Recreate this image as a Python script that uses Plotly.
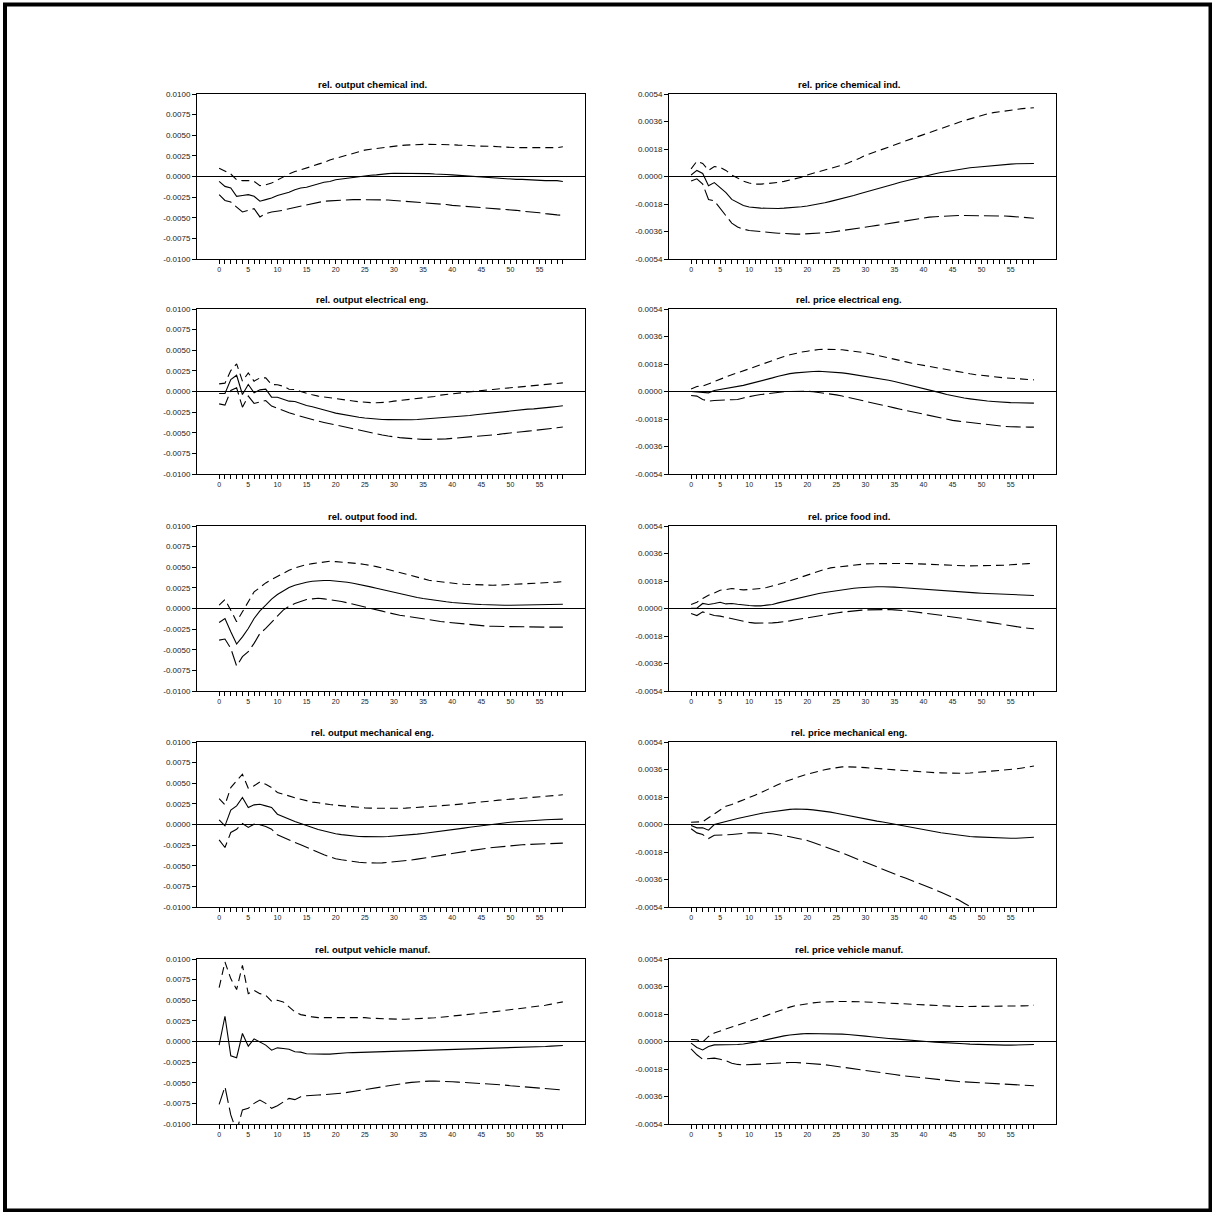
import plotly.graph_objects as go

# ---------------- data (values in units of 1e-4) ----------------
UNIT = 1e-4
horizon = list(range(60))

titles = [
    "rel. output chemical ind.", "rel. price chemical ind.",
    "rel. output electrical eng.", "rel. price electrical eng.",
    "rel. output food ind.", "rel. price food ind.",
    "rel. output mechanical eng.", "rel. price mechanical eng.",
    "rel. output vehicle manuf.", "rel. price vehicle manuf.",
]

out_chem_irf = [-6,-12,-14,-24,-23,-22,-24,-30,-28,-26, -23,-21,-19,-16,-14,-13,-11,-9,-7,-6, -4,-3,-2,-1,0,1,1.5,2,3,3.5, 4,4,4,4,4,4,3.5,3,3,2.5, 2,1.5,1,0.5,0,-1,-1.5,-2,-2,-2.5, -3,-3.5,-3.5,-4,-4,-4.5,-5,-5,-5,-6]
out_chem_up = [10,6,3,-4,-5,-5,-6,-11,-10,-8, -4,0,3,6,8,10,12.5,15,17,20, 22,24,26,28,30,32,33,34,35,36, 37,37.5,38,38.5,39,39,39,39,39,38.5, 38.5,38,38,37.5,37,37,37,36.5,36,35.5, 35,35,35,35,35,35,35,35,35,36]
out_chem_lo = [-22,-29,-31,-37,-43,-41,-39,-49,-45,-43, -42,-41,-39,-37.5,-36,-34,-33,-31,-30,-29.5, -29,-28.5,-28,-28,-28,-28,-28,-28,-28,-28.5, -29,-29.5,-30,-30.5,-31,-31.5,-32,-33,-33.5,-34, -35,-35.5,-36,-36.5,-37,-37.5,-38,-38.5,-39,-39.5, -40,-41,-42,-42.5,-43,-44,-45,-46,-46.5,-47]

pr_chem_irf = [1,4,2,-6,-4,-7,-10.5,-15,-17,-19, -20,-20.5,-20.7,-20.8,-21,-20.9,-20.7,-20.5,-20.2,-19.8, -19.3,-18.7,-18,-17.2,-16.3,-15.4,-14.4,-13.4,-12.4,-11.3, -10.3,-9.3,-8.2,-7.1,-6,-4.9,-3.8,-2.8,-1.8,-0.8, 0.2,1,1.8,2.6,3.3,4,4.6,5.2,5.7,6.1, 6.5,6.9,7.3,7.6,7.9,8.1,8.3,8.4,8.5,8.5]
pr_chem_up = [5,10,8.5,4,6.5,6,4,1,-1,-3, -4.3,-5,-5,-4.7,-4.3,-3.9,-3.2,-2.4,-1.5,-0.5, 1,2,3,4,5,6.2,7.5,8.8,10.2,12, 13.8,15.2,16.6,18,19.5,21,22.3,23.6,24.9,26.1, 27.4,28.8,30.2,31.5,32.8,34,35.3,36.6,37.8,39, 40,41,41.8,42.4,43,43.5,44,44.4,44.7,45]
pr_chem_lo = [-3,-1.5,-5,-15,-16,-21,-26,-30.5,-33,-34.5, -35.3,-35.8,-36.2,-36.5,-36.8,-37.1,-37.4,-37.6,-37.7,-37.7, -37.6,-37.4,-37.1,-36.8,-36.5,-36,-35.5,-35,-34.4,-33.8, -33.2,-32.6,-32,-31.4,-30.8,-30.2,-29.5,-28.8,-28.2,-27.6, -27,-26.6,-26.3,-26,-25.8,-25.6,-25.5,-25.5,-25.5,-25.5, -25.5,-25.5,-25.5,-25.7,-25.9,-26.1,-26.4,-26.7,-27,-27.3]

out_elec_irf = [-2.4,-2.4,14.5,19.7,-3.6,8.5,-1.6,2,2.8,-6.9, -6.9,-8.9,-11.7,-12.1,-14.9,-16.9,-18.5,-20.6,-23,-24.2, -26.2,-27.6,-29,-30.2,-31.2,-32.2,-33,-33.6,-33.9,-34.1, -34.3,-34.4,-34.4,-34.3,-34,-33.5,-33.1,-32.7,-32.2,-31.6, -31,-30.4,-29.7,-29,-28.2,-27.4,-26.4,-25.4,-24.9,-24, -23,-22.5,-22,-21.4,-21,-20.6,-19.8,-18.9,-18.1,-17.3]
out_elec_up = [9.3,10.1,25.4,33.5,12.5,22.6,12.5,16.5,16.5,8.5, 8.1,6.4,2.8,2.4,0,-2.4,-4,-5.6,-6.7,-7.8, -8.9,-9.7,-10.5,-11.5,-12.4,-13.3,-13.5,-13.6,-13.7,-12.9, -11.7,-10.9,-10.1,-9.3,-8.5,-7.7,-7,-6,-4.4,-3.6, -2.8,-1.7,-0.6,0.4,0.8,1.2,1.9,2.5,3.2,3.8, 4.4,5.1,5.7,6.4,7,7.7,8.4,9.1,9.8,10.5]
out_elec_lo = [-15,-16.5,1.2,4.4,-19,-5.6,-14.5,-12.5,-10.9,-17.7, -20.6,-23.2,-25.8,-28,-30.2,-31.8,-33.9,-35.9,-37.5,-39.1, -40.7,-42.3,-43.9,-45.3,-46.6,-48,-49.6,-51.2,-52.8,-54, -55.2,-55.9,-56.5,-57.2,-57.6,-58,-58,-58,-58,-57.4, -56.8,-56.3,-55.7,-55.2,-54.8,-54.4,-53.6,-52.8,-52,-51, -50,-49.3,-48.7,-48,-47.4,-46.7,-45.8,-44.9,-44,-43.1]

pr_elec_irf = [0,-0.2,-0.4,-0.9,0.7,1.3,1.7,2.4,3.1,4, 5,5.9,6.8,7.9,8.9,10,11.1,11.7,12.2,12.6, 12.9,13.1,13.3,13.1,12.9,12.6,12.2,11.7,11.1,10.6, 10,9.5,8.9,8.2,7.4,6.6,5.7,4.8,3.9,2.9, 2,1.1,0.2,-0.9,-2,-2.9,-3.7,-4.3,-4.8,-5.4, -5.9,-6.2,-6.5,-6.9,-7.2,-7.3,-7.4,-7.5,-7.5,-7.6]
pr_elec_up = [1.7,3.3,3.5,5,6.8,8.5,9.8,11,12.2,13.6, 15,16.4,17.7,19,20.3,21.6,22.9,24,25.1,25.8, 26.4,27,27.5,27.6,27.7,27.5,27.3,26.9,26.4,25.9, 25.3,24.6,23.8,22.9,22,21.2,20.3,19.4,18.5,17.8, 17,16.3,15.5,14.8,14,13.3,12.6,12.1,11.6,11, 10.5,10,9.6,9.2,8.9,8.7,8.5,8.2,7.9,7.6]
pr_elec_lo = [-2.6,-3,-5.2,-6.3,-5.9,-5.9,-5.5,-5.4,-5.2,-4.2, -3.3,-2.6,-2,-1.5,-1.1,-0.6,-0.2,0,0.2,0.2, 0.2,-0.2,-0.7,-1.1,-1.5,-2.2,-3,-3.8,-4.6,-5.4, -6.3,-7.2,-8.1,-8.9,-9.8,-10.7,-11.6,-12.4,-13.3,-14.1, -15,-15.9,-16.8,-17.6,-18.3,-18.9,-19.4,-19.9,-20.3,-20.7, -21.1,-21.5,-22,-22.5,-22.9,-23.1,-23.3,-23.3,-23.3,-23.3]

out_food_irf = [-16.9,-12.1,-28.2,-43.1,-34.3,-24.2,-12.1,-2.8,4,11.3, 16.9,21.4,25.4,28.2,30.2,31.8,33,33.9,33.9,33.9, 33.4,32.6,31.8,30.6,29.4,27.8,26.2,24.6,23,21, 18.9,17.5,16.1,14.7,13.3,12.1,10.9,9.9,8.9,8.1, 7.3,6.6,6,5.6,5.2,4.8,4.4,4.2,4,4, 4,4.2,4.4,4.6,4.8,4.8,4.8,5,5.1,5.2]
out_food_up = [4,10.9,-2,-16.1,-4,8.1,20.2,25.4,31,35.1, 39.1,43.1,46.3,49.2,51.6,53.2,54.4,55.6,56.8,57.2, 56.8,56.4,56,55.2,54.4,53.4,52.4,50.8,49.2,47.4, 45.5,43.5,41.5,39.5,37.5,35.9,34.3,33.2,32.2,31.4, 30.6,30,29.4,29,28.6,28.4,28.2,28.2,28.4,28.7, 29,29.2,29.4,29.8,30.2,30.6,31,31.5,32,32.6]
out_food_lo = [-38.3,-37,-48.4,-69.7,-58.4,-52.4,-42.3,-30.2,-24.2,-16.1, -9.3,-2,2.8,6,8.9,10.9,11.7,12.5,11.7,10.9, 10,8.5,6.9,5.3,3.6,2.2,0.8,-1.2,-3.2,-5, -6.9,-8.1,-9.3,-10.5,-11.7,-12.9,-14.1,-14.9,-15.7,-16.5, -17.3,-18.1,-18.9,-19.6,-20.2,-20.8,-21.4,-21.6,-21.8,-22, -22.2,-22.2,-22.2,-22.4,-22.6,-22.6,-22.6,-22.6,-22.6,-22.6]

pr_food_irf = [0.2,0.2,3.3,2.6,3.3,4.1,3,3.3,2.8,2.2, 2,1.7,1.7,2.2,2.6,3.7,4.6,5.4,6.3,7.2, 8.3,9,9.8,10.5,11.1,11.8,12.4,12.9,13.3,13.6, 13.9,14.1,14.2,14.2,14.2,14,13.7,13.4,13.1,12.8, 12.6,12.4,12.2,11.8,11.5,11.2,10.9,10.6,10.4,10.2, 10,9.8,9.6,9.3,9.1,8.9,8.7,8.6,8.5,8.5]
pr_food_up = [2.6,4.1,6.5,8.7,10.2,12,12.4,13.1,12.6,12.2, 12.4,12.6,13.1,13.7,14.6,15.7,16.8,18.1,19.4,20.7, 22,23.3,24.6,25.6,26.6,27.1,27.6,28.1,28.5,28.9, 29.2,29.3,29.4,29.5,29.6,29.6,29.6,29.5,29.4,29.2, 29,28.8,28.7,28.6,28.5,28.3,28.1,28,27.9,27.9, 27.9,27.9,27.9,28.1,28.3,28.6,29,29.2,29.4,29.6]
pr_food_lo = [-3.3,-4.6,-2.2,-3.3,-4.6,-5,-5.9,-6.7,-7.6,-8.5, -9.1,-9.6,-9.6,-9.4,-9.4,-9.1,-8.7,-8.1,-7.4,-6.7, -6.1,-5.4,-4.8,-4.1,-3.5,-2.9,-2.4,-1.9,-1.5,-1.2, -0.9,-0.8,-0.7,-0.7,-0.7,-0.9,-1.1,-1.5,-2,-2.4, -2.8,-3.3,-3.9,-4.4,-5,-5.5,-6.1,-6.5,-7,-7.6, -8.3,-8.8,-9.4,-10,-10.7,-11.3,-12,-12.5,-12.9,-13.3]

out_mech_irf = [5.7,-1.6,17.4,22.6,32.7,20.6,23.8,24.6,22.6,20.6, 12.5,9.3,6.5,3.6,1.2,-1.6,-3.6,-6.1,-8.1,-9.7, -11.3,-12.3,-13.3,-13.9,-14.5,-14.7,-14.9,-14.9,-14.9,-14.5, -14.1,-13.5,-12.9,-12.3,-11.7,-10.9,-10.1,-9.3,-8.5,-7.5, -6.5,-5.5,-4.4,-3.4,-2.4,-1.4,-0.4,0.4,1.2,2, 2.8,3.4,4,4.4,4.8,5.3,5.7,6,6.3,6.5]
out_mech_up = [31.5,23.8,44.8,52.9,61,44,46.9,51.7,48.9,44.8, 38.8,36.8,34.3,32.3,30.7,28.7,27.1,26.3,25,24.2, 23.4,22.6,21.8,21.2,20.6,20.2,19.8,19.6,19.4,19.4, 19.4,19.6,19.8,20.2,20.6,21,21.4,22,22.6,23.2, 23.8,24.4,25,25.9,26.7,27.3,27.9,28.7,29.5,30.1, 30.7,31.3,31.9,32.5,33.1,33.7,34.3,34.9,35.5,36]
out_mech_lo = [-18.6,-27.9,-9.7,-5.7,1.2,-3.6,0.4,-0.4,-2.4,-5.7, -12.5,-15.8,-19,-21.8,-24.6,-27.9,-31.1,-33.9,-36.8,-39.2, -41.6,-42.8,-44,-44.9,-45.7,-46.3,-46.9,-46.7,-46.5,-45.9, -45.2,-44.6,-44,-43,-42,-41,-40,-38.8,-37.6,-36.4, -35.1,-33.9,-32.7,-31.7,-30.7,-29.7,-28.7,-27.9,-27.1,-26.5, -25.9,-25.3,-24.6,-24.2,-23.8,-23.4,-23,-22.9,-22.7,-22.6]

pr_mech_irf = [-0.7,-2.2,-2.2,-3.7,0,1.1,2.2,3.1,3.9,4.8, 5.7,6.5,7.2,7.9,8.5,9.1,9.6,9.9,10.1,10.1, 9.9,9.6,9.2,8.7,8.1,7.4,6.6,5.8,5,4.4, 3.7,3,2.2,1.6,0.9,0.1,-0.7,-1.5,-2.2,-3, -3.7,-4.3,-4.8,-5.4,-5.9,-6.5,-7,-7.5,-7.9,-8.1, -8.3,-8.6,-8.8,-8.9,-9,-9,-9,-8.9,-8.8,-8.3]
pr_mech_up = [1.5,1.5,1.8,4.4,7,9.9,12,13.1,14.5,16, 17.5,19.2,20.8,22.7,24.5,26.2,27.8,29.3,30.7,31.8, 32.9,34,35,35.8,36.6,37.2,37.7,37.7,37.7,37.5, 37.2,36.9,36.6,36.3,35.9,35.7,35.5,35.2,34.8,34.6, 34.4,34.2,33.9,33.8,33.7,33.5,33.3,33.5,33.7,34, 34.2,34.6,35,35.4,35.7,36.1,36.4,37,37.6,38.3]
pr_mech_lo = [-2.8,-5.5,-6.6,-9.2,-7,-7,-6.8,-6.5,-6.1,-5.8, -5.5,-5.5,-5.5,-5.8,-6.1,-6.6,-7.2,-8,-8.8,-9.6, -10.5,-11.8,-13.1,-14.6,-16,-17.3,-18.6,-20.2,-21.9,-23.3, -24.7,-26.3,-27.8,-29.3,-30.7,-32.3,-33.9,-35.2,-36.6,-38, -39.4,-41,-42.7,-44.4,-46,-47.6,-49.3,-51.5,-53.7,-55, -56.5,-58,-59,-60,-61,-62,-63,-64,-65,-66]

out_veh_irf = [-4.4,30.6,-17.3,-19.7,9.7,-5.6,3.2,-0.4,-4.4,-10.5, -7.7,-8.5,-9.3,-12.5,-12.9,-14.9,-15.3,-15.3,-15.3,-15.3, -14.5,-14.1,-13.7,-13.5,-13.3,-13.1,-12.9,-12.7,-12.5,-12.3, -12.1,-11.7,-11.3,-11.1,-10.9,-10.7,-10.5,-10.3,-10.1,-9.9, -9.7,-9.5,-9.3,-9.1,-8.9,-8.7,-8.5,-8.3,-8.1,-7.9, -7.7,-7.3,-6.9,-6.7,-6.4,-6.2,-6,-5.6,-5.2,-4.8]
out_veh_up = [65.3,96.3,76.2,62.9,92.3,58,62,58,56,48.8, 50,48,41.9,35.9,32.6,31,29.8,29,29,29.2, 29.4,29.6,29.8,29.8,29.8,29,28.2,27.8,27.4,27.2, 27,27,27,27.2,27.4,27.8,28.2,28.8,29.4,30, 30.6,31.2,31.8,32.6,33.4,34.2,35.1,35.9,36.7,37.5, 38.3,39.1,39.9,40.9,41.9,42.9,43.9,45.3,46.6,48]
out_veh_lo = [-76.2,-54.8,-89,-109,-83,-81,-75,-71,-75,-81, -77.8,-72.9,-68.9,-70.5,-66.9,-65.7,-64.9,-64.9,-64.5,-64.1, -63.7,-62.7,-61.7,-60.5,-59.2,-58,-56.8,-55.6,-54.4,-53.2, -52,-51.2,-50.4,-49.6,-48.8,-48.4,-48,-48,-48,-48.4, -48.8,-49.2,-49.6,-49.8,-50,-50.4,-50.8,-51.4,-52,-52.8, -53.6,-54.2,-54.8,-55.4,-56,-56.6,-57.2,-57.7,-58.3,-58.8]

pr_veh_irf = [-1.1,-3.9,-5.5,-3.3,-2.2,-2.2,-2.2,-2.2,-2,-1.6, -1.1,-0.4,0.4,1.3,2.2,3,3.7,4.3,4.8,5, 5.2,5.2,5.2,5.2,5.2,5,4.8,4.6,4.4,4, 3.5,3.1,2.6,2.3,2,1.7,1.3,1,0.7,0.3, 0,-0.2,-0.4,-0.7,-0.9,-1.1,-1.3,-1.5,-1.7,-1.9, -2,-2.1,-2.2,-2.3,-2.4,-2.4,-2.4,-2.3,-2.2,-2]
pr_veh_up = [1.3,1.1,-0.4,3.3,5.5,7,8.3,9.5,10.7,11.9, 13.1,14.4,15.7,17.1,18.5,20,21.4,22.5,23.5,24.2, 24.9,25.3,25.7,26,26.2,26.2,26.2,26.2,26.2,26.1, 25.9,25.7,25.5,25.3,25.1,24.9,24.6,24.4,24.2,24, 23.8,23.6,23.3,23.2,23.1,23,22.9,22.9,22.9,22.9, 22.9,22.9,22.9,23,23.1,23.1,23.1,23.3,23.5,23.8]
pr_veh_lo = [-4.8,-8.7,-11.6,-11.3,-10.9,-11.6,-12.6,-14.2,-15,-15.3, -15.3,-15,-14.8,-14.5,-14.2,-13.9,-13.7,-13.7,-13.7,-13.9, -14.2,-14.5,-14.8,-15.2,-15.7,-16.2,-16.8,-17.3,-17.9,-18.4, -19,-19.5,-20.1,-20.6,-21.1,-21.6,-22.2,-22.6,-23.1,-23.5, -24,-24.5,-24.9,-25.2,-25.5,-25.9,-26.2,-26.4,-26.6,-27, -27.3,-27.5,-27.7,-27.9,-28.1,-28.2,-28.3,-28.5,-28.8,-29]

series = [
    (out_chem_irf, out_chem_up, out_chem_lo), (pr_chem_irf, pr_chem_up, pr_chem_lo),
    (out_elec_irf, out_elec_up, out_elec_lo), (pr_elec_irf, pr_elec_up, pr_elec_lo),
    (out_food_irf, out_food_up, out_food_lo), (pr_food_irf, pr_food_up, pr_food_lo),
    (out_mech_irf, out_mech_up, out_mech_lo), (pr_mech_irf, pr_mech_up, pr_mech_lo),
    (out_veh_irf, out_veh_up, out_veh_lo), (pr_veh_irf, pr_veh_up, pr_veh_lo),
]

output_ticks = [-0.01, -0.0075, -0.005, -0.0025, 0.0, 0.0025, 0.005, 0.0075, 0.01]
price_ticks = [-0.0054, -0.0036, -0.0018, 0.0, 0.0018, 0.0036, 0.0054]
x_ticks = list(range(60))
x_ticktext = [str(i) if i % 5 == 0 else "" for i in x_ticks]

# ---------------- layout geometry (pixels) ----------------
W = H = 1212
col_px = [(197, 585), (669, 1056)]
row_top_px = [94, 309, 526, 742, 959]
box_h = 165
title_cx = [372, 849]

FONT = "Liberation Sans, Arial, sans-serif"

fig = go.Figure()
layout = dict(
    width=W, height=H, margin=dict(l=0, r=0, t=0, b=0),
    paper_bgcolor="white", plot_bgcolor="white", showlegend=False,
    template="none", font=dict(family=FONT, color="black"),
)
annotations = []

for k, (irf, up, lo) in enumerate(series):
    r, c = divmod(k, 2)
    idx = "" if k == 0 else str(k + 1)
    xa, ya = "x" + idx, "y" + idx
    x0, x1 = col_px[c]
    top = row_top_px[r]
    bot = top + box_h
    ticks = output_ticks if c == 0 else price_ticks
    yr = [ticks[0], ticks[-1]]

    for vals, dash in ((up, "8px,5px"), (lo, "15px,5px"), (irf, "solid")):
        fig.add_trace(go.Scatter(
            x=horizon, y=[v * UNIT for v in vals], mode="lines",
            line=dict(color="black", width=1.1, dash=dash),
            xaxis=xa, yaxis=ya, hoverinfo="skip"))

    layout["xaxis" + idx] = dict(
        domain=[x0 / W, x1 / W], anchor=ya, range=[-3.8, 62.8],
        tickmode="array", tickvals=x_ticks, ticktext=x_ticktext,
        ticks="outside", ticklen=4, tickwidth=1, tickcolor="black",
        tickfont=dict(size=7, family=FONT, color="#222"),
        showline=True, linecolor="black", linewidth=1, mirror=True,
        showgrid=False, zeroline=False, automargin=False, fixedrange=True)
    layout["yaxis" + idx] = dict(
        domain=[1 - bot / H, 1 - top / H], anchor=xa, range=yr,
        tickmode="array", tickvals=ticks, ticktext=[f"{t:.4f}" for t in ticks],
        ticks="outside", ticklen=4, tickwidth=1, tickcolor="black",
        tickfont=dict(size=8, family=FONT, color="#222"),
        showline=True, linecolor="black", linewidth=1, mirror=True,
        showgrid=False, zeroline=True, zerolinecolor="black", zerolinewidth=1,
        automargin=False, fixedrange=True)
    annotations.append(dict(
        text=f"<b>{titles[k]}</b>", xref="paper", yref="paper",
        x=title_cx[c] / W, y=1 - (top - 9.5) / H, xanchor="center", yanchor="middle",
        showarrow=False, font=dict(size=9.5, family=FONT, color="black")))

layout["annotations"] = annotations
layout["shapes"] = [dict(type="rect", xref="paper", yref="paper",
                         x0=5 / W, x1=1 - 1.5 / W, y0=1.5 / H, y1=1 - 4.5 / H,
                         line=dict(color="black", width=4), fillcolor="rgba(0,0,0,0)")]
fig.update_layout(**layout)

fig.write_html("out.html", config={"displayModeBar": False},
               post_script="document.body.style.margin='0';document.body.style.overflow='hidden';")
